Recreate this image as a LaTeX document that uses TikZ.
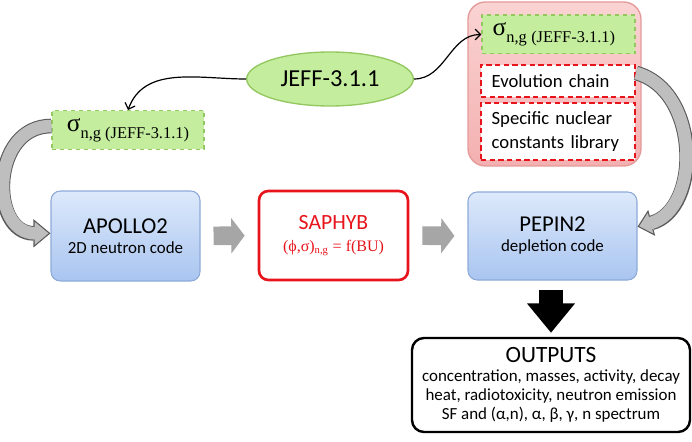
\documentclass[tikz,border=0pt]{standalone}
\usepackage{fontspec}
\setmainfont{Carlito}
\newfontfamily\timesfont{Liberation Serif}
\usetikzlibrary{
  positioning,
  arrows.meta,
  shapes.geometric
}
\definecolor{jeffgreen}{HTML}{C4EE9E}
\definecolor{jeffline}{HTML}{93C760}
\definecolor{codeblue}{HTML}{DDE9FB}
\definecolor{codeblue2}{HTML}{A9C5F0}
\definecolor{codeline}{HTML}{8EAAD8}
\definecolor{saphred}{HTML}{E8141B}
\definecolor{libpink}{HTML}{FAD3D3}
\definecolor{libpink2}{HTML}{F4B0B0}
\definecolor{libline}{HTML}{E59A9A}
\definecolor{flowgray}{HTML}{A6A6A6}
\definecolor{bandgray}{HTML}{BEBEBE}
\definecolor{bandline}{HTML}{5A5A5A}

\newcommand{\xslabel}{{\timesfont\fontsize{19}{19}\selectfont σ\raisebox{-5pt}{\fontsize{12.3}{14}\selectfont n,g (JEFF-3.1.1)}}}

\begin{document}
\begin{tikzpicture}[x=0.75pt, y=0.75pt,
  code/.style={draw=codeline, line width=0.8pt, rounded corners=7pt, top color=codeblue,
               bottom color=codeblue2, align=center, font=\fontsize{12.7}{15}\selectfont},
  xsbox/.style={draw=jeffline, dashed, line width=1pt, fill=jeffgreen, minimum height=29pt},
  libentry/.style={draw=saphred, dash pattern=on 4pt off 2.5pt, line width=1.5pt, fill=white,
               text width=99.5pt, inner xsep=8pt, align=left, font=\fontsize{14}{18}\selectfont},
  dataarrow/.style={-{Straight Barb[length=4pt,width=8pt]}, line width=0.9pt},
  flowarrow/.style={flowgray, line width=14pt, -{Triangle[length=10pt,width=26pt]},
               shorten <=9.75pt, shorten >=9.75pt},
  bandout/.style={draw=bandline, line width=11pt},
  bandin/.style={draw=bandgray, line width=9.4pt},
]
  \useasboundingbox (0,0) rectangle (692,-442);

  % data library
  \node[draw=jeffline, line width=1pt, fill=jeffgreen, ellipse, minimum width=125pt,
        minimum height=40.5pt, font=\fontsize{18.3}{20}\selectfont] (jeff) at (330,-79) {JEFF-3.1.1};

  \node[xsbox, minimum width=114pt] (xsL) at (128,-130) {\xslabel};

  % PEPIN2 inputs
  \node[draw=libline, line width=1pt, rounded corners=13pt, top color=libpink, bottom color=libpink2,
        minimum width=129.75pt, minimum height=123pt] (lib) at (554.5,-84) {};
  \node[xsbox, text width=98.75pt, inner xsep=8pt, align=left] (xsR) at (558.5,-34.5) {\xslabel};
  \node[libentry, minimum height=24pt] (evo) at (558,-81) {Evolution chain};
  \node[libentry, minimum height=42.75pt] (spec) at (558,-131.5) {Specific nuclear\\constants library};

  % codes
  \node[code, minimum width=111.75pt, minimum height=67.5pt] (apollo) at (125.5,-236)
    {{\fontsize{17}{15}\selectfont APOLLO2}\\2D neutron code};
  \node[draw=saphred, line width=2pt, rounded corners=7pt, fill=white, text=saphred, align=center,
        minimum width=111.75pt, minimum height=66.75pt, font=\fontsize{12}{16.5}\selectfont] (saphyb) at (333.5,-235.5)
    {{\fontsize{16.3}{16.5}\selectfont SAPHYB}\\{\timesfont(ϕ,σ)\textsubscript{n,g} = f(BU)}};
  \node[code, minimum width=126.75pt, minimum height=66pt] (pepin) at (552.5,-236)
    {{\fontsize{17}{15}\selectfont PEPIN2}\\depletion code};

  \node[draw, line width=1.8pt, rounded corners=9pt, fill=white, align=center,
        minimum width=208.5pt, minimum height=70.5pt, font=\fontsize{12.7}{14.4}\selectfont] (outputs) at (551,-385)
    {{\fontsize{17.5}{14.4}\selectfont OUTPUTS}\\concentration, masses, activity, decay\\
     heat, radiotoxicity, neutron emission\\SF and (α,n), α, β, γ, n spectrum};

  % connectors
  \draw[dataarrow] (jeff.west) to[out=180, in=70] (xsL.north);
  \draw[dataarrow] (jeff.east) to[out=0, in=180] (xsR.west);

  \draw[flowarrow] (apollo.east) -- (saphyb.west);
  \draw[flowarrow] (saphyb.east) -- (pepin.west);
  \draw[black, line width=18pt, -{Triangle[length=22pt,width=34.5pt]}, shorten <=6.75pt, shorten >=3pt]
    (outputs.north |- pepin.south) -- (outputs.north);

  \draw[bandout, -{Triangle[length=12.75pt,width=21pt,fill=bandgray,line width=0.8pt]}]
    ([yshift=3pt]xsL.west) to[out=180, in=180, looseness=1.45] ([yshift=2pt]apollo.west);
  \draw[bandin, shorten >=11.5pt]
    ([yshift=3pt]xsL.west) to[out=180, in=180, looseness=1.45] ([yshift=2pt]apollo.west);

  \draw[bandout, -{Triangle[length=11pt,width=20pt,fill=bandgray,line width=0.8pt]}]
    ([yshift=6pt]evo.east) to[out=-15, in=15, looseness=1.1] ([yshift=7pt]pepin.east);
  \draw[bandin, shorten >=9.8pt]
    ([yshift=6pt]evo.east) to[out=-15, in=15, looseness=1.1] ([yshift=7pt]pepin.east);
\end{tikzpicture}
\end{document}
